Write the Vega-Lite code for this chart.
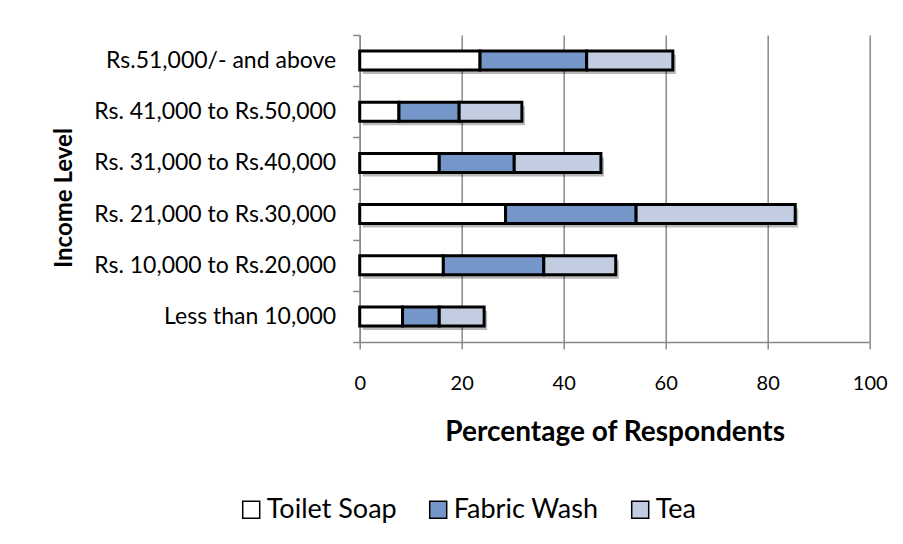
{
  "$schema": "https://vega.github.io/schema/vega-lite/v6.json",
  "width": 510,
  "height": 307,
  "autosize": {"type": "none"},
  "padding": {"left": 359.7, "top": 35, "right": 33.3, "bottom": 202},
  "background": "white",
  "config": {"font": "Lato", "view": {"stroke": null}},
  "data": {
    "values": [
      {"income": "Rs.51,000/- and above", "product": "Toilet Soap", "pct": 23.6, "k": 1},
      {"income": "Rs.51,000/- and above", "product": "Fabric Wash", "pct": 20.9, "k": 2},
      {"income": "Rs.51,000/- and above", "product": "Tea", "pct": 16.9, "k": 3},
      {"income": "Rs. 41,000 to Rs.50,000", "product": "Toilet Soap", "pct": 7.7, "k": 1},
      {"income": "Rs. 41,000 to Rs.50,000", "product": "Fabric Wash", "pct": 11.8, "k": 2},
      {"income": "Rs. 41,000 to Rs.50,000", "product": "Tea", "pct": 12.3, "k": 3},
      {"income": "Rs. 31,000 to Rs.40,000", "product": "Toilet Soap", "pct": 15.6, "k": 1},
      {"income": "Rs. 31,000 to Rs.40,000", "product": "Fabric Wash", "pct": 14.7, "k": 2},
      {"income": "Rs. 31,000 to Rs.40,000", "product": "Tea", "pct": 17.0, "k": 3},
      {"income": "Rs. 21,000 to Rs.30,000", "product": "Toilet Soap", "pct": 28.6, "k": 1},
      {"income": "Rs. 21,000 to Rs.30,000", "product": "Fabric Wash", "pct": 25.6, "k": 2},
      {"income": "Rs. 21,000 to Rs.30,000", "product": "Tea", "pct": 31.2, "k": 3},
      {"income": "Rs. 10,000 to Rs.20,000", "product": "Toilet Soap", "pct": 16.4, "k": 1},
      {"income": "Rs. 10,000 to Rs.20,000", "product": "Fabric Wash", "pct": 19.7, "k": 2},
      {"income": "Rs. 10,000 to Rs.20,000", "product": "Tea", "pct": 14.1, "k": 3},
      {"income": "Less than 10,000", "product": "Toilet Soap", "pct": 8.4, "k": 1},
      {"income": "Less than 10,000", "product": "Fabric Wash", "pct": 7.2, "k": 2},
      {"income": "Less than 10,000", "product": "Tea", "pct": 8.8, "k": 3}
    ]
  },
  "encoding": {
    "y": {
      "field": "income",
      "type": "nominal",
      "sort": null,
      "scale": {"paddingInner": 0, "paddingOuter": 0},
      "axis": {
        "title": "Income Level",
        "titleFontSize": 24,
        "titleFontWeight": "bold",
        "titleColor": "black",
        "titleAngle": -90,
        "titleX": -288,
        "titleY": 162.5,
        "titleAlign": "center",
        "titleBaseline": "alphabetic",
        "labelFontSize": 23,
        "labelColor": "black",
        "labelPadding": 17,
        "labelLimit": 400,
        "tickSize": 7,
        "tickColor": "#898989",
        "tickWidth": 1.5,
        "tickBand": "extent",
        "domainColor": "#898989",
        "domainWidth": 1.5,
        "grid": false
      }
    },
    "x": {
      "field": "pct",
      "type": "quantitative",
      "stack": "zero",
      "scale": {"domain": [0, 100], "nice": false},
      "axis": {
        "title": "Percentage of Respondents",
        "titleFontSize": 28,
        "titleFontWeight": "bold",
        "titleColor": "black",
        "titleY": 98,
        "titleBaseline": "alphabetic",
        "values": [0, 20, 40, 60, 80, 100],
        "labelFontSize": 20,
        "labelColor": "black",
        "labelPadding": 24.5,
        "labelFlush": false,
        "tickSize": 7,
        "tickColor": "#898989",
        "tickWidth": 1.5,
        "domainColor": "#898989",
        "domainWidth": 1.5,
        "grid": true,
        "gridColor": "#898989",
        "gridWidth": 1.5
      }
    },
    "order": {"field": "k", "type": "quantitative"}
  },
  "layer": [
    {
      "mark": {"type": "bar", "color": "#000000", "fillOpacity": 0.28, "strokeWidth": 0, "size": 19, "xOffset": 3, "yOffset": 4},
      "encoding": {"detail": {"field": "product"}}
    },
    {
      "mark": {"type": "bar", "stroke": "black", "strokeWidth": 3, "size": 19},
      "encoding": {
        "color": {
          "field": "product",
          "type": "nominal",
          "scale": {
            "domain": ["Toilet Soap", "Fabric Wash", "Tea"],
            "range": ["#ffffff", "#7496c8", "#c2cde2"]
          },
          "legend": {
            "orient": "none",
            "legendX": -122,
            "legendY": 461,
            "direction": "horizontal",
            "title": null,
            "padding": 0,
            "symbolType": "square",
            "symbolSize": 289,
            "symbolStrokeColor": "black",
            "symbolStrokeWidth": 1.5,
            "symbolOpacity": 1,
            "labelFontSize": 27,
            "labelColor": "black",
            "labelOffset": 2,
            "columnPadding": 28
          }
        }
      }
    }
  ]
}
